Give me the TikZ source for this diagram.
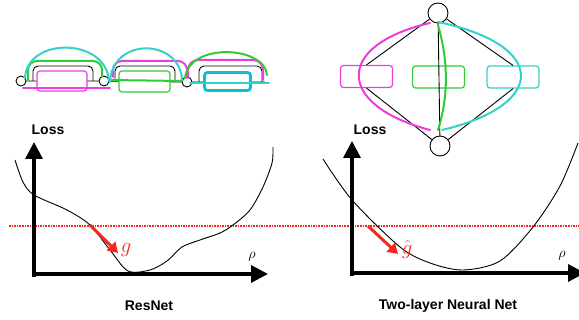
\documentclass[tikz,border=0pt]{standalone}
\usepackage{fontspec}
\setsansfont{Liberation Sans}
\usepackage{amsmath}
\usetikzlibrary{arrows.meta,calc}

\definecolor{skipmag}{RGB}{236,60,222}
\definecolor{skipgreen}{RGB}{48,204,52}
\definecolor{skipcyan}{RGB}{50,210,200}
\definecolor{deepcyan}{RGB}{10,190,214}
\definecolor{gradred}{RGB}{246,40,30}

\begin{document}
\begin{tikzpicture}[x=1pt,y=-1pt,>=latex]
	\tikzstyle{unit}=[circle,draw,fill=white,inner sep=0pt,line width=0.9pt]
	\tikzstyle{blk}=[draw,rectangle,rounded corners=3pt,fill=white,line width=1.2pt,minimum width=50pt,minimum height=20pt]
	\tikzstyle{route}=[line width=2pt,line cap=round]
	\tikzstyle{axis}=[line width=3.4pt,-{Triangle[length=17pt,width=17pt]}]
	\tikzstyle{grad}=[line width=3pt,gradred,-{Triangle[length=10pt,width=12pt]}]
	\tikzstyle{lbl}=[font=\fontsize{14}{16}\selectfont\sffamily\bfseries,anchor=base]

	\useasboundingbox (0,0) rectangle (579,320);

	\node[unit,minimum size=10pt] (R0) at (21,81) {};
	\node[unit,minimum size=10pt] (R1) at (104,81) {};
	\node[unit,minimum size=10pt] (R2) at (187,82) {};
	\coordinate (R3) at (265,82);

	\draw[line width=0.9pt] (R0) -- (R1) -- (R2) -- (R3);
	\draw[line width=0.9pt,rounded corners=5pt] ($(R0)+(12,0)$) -- ++(0,-15) -| ($(R1)+(-11,0)$);
	\draw[line width=0.9pt,rounded corners=5pt] ($(R1)+(11,0)$) -- ++(0,-15) -| ($(R2)+(-12,0)$);
	\draw[line width=0.9pt,rounded corners=5pt] ($(R2)+(12,0)$) -- ++(0,-16) -| ($(R3)+(-3,0)$);

	\node[blk,draw=skipmag] (B1) at (62,81) {};
	\node[blk,draw=skipgreen,minimum width=51pt,minimum height=21pt] (B2) at (144.5,81.5) {};
	\node[blk,draw=deepcyan,line width=2.8pt,minimum width=46pt,minimum height=18pt] (B3) at (227.5,81.5) {};

	\draw[route,skipmag] ($(R0)+(2,7)$) -- ($(R1)+(6,7)$);
	\draw[route,skipgreen,rounded corners=9pt] ($(R0)+(7,-1)$) -- ++(0,-19) -| ($(R1)+(-2,-4)$);
	\draw[route,skipcyan] ($(R0)+(4,-3)$) .. controls ($(R0)+(6,-44)$) and ($(R1)+(2,-44)$) .. ($(R1)+(5,0)$);

	\draw[route,skipgreen] ($(R1)+(6,-1)$) -- ($(R2)+(-5,-1)$);
	\draw[route,skipmag,rounded corners=9pt] ($(R1)+(9,-4)$) -- ++(0,-16) -| ($(R2)+(0,-4)$);
	\draw[route,skipcyan] ($(R1)+(6,1)$) .. controls ($(R1)+(8,-44)$) and ($(R2)+(-7,-44)$) .. ($(R2)+(-5,-2)$);

	\draw[route,skipcyan] ($(R2)+(3,1)$) -- ($(R3)+(4,1)$);
	\draw[route,skipmag,rounded corners=10pt] ($(R2)+(1,-5)$) -- ++(0,-17) -| ($(R3)+(-2,-2)$);
	\draw[route,skipgreen] ($(R2)+(-2,-4)$) .. controls ($(R2)+(2,-40)$) and ($(R3)+(0,-36)$) .. ($(R3)+(2,-7)$);

	\node[unit,minimum size=20pt] (T) at (438,13) {};
	\node[unit,minimum size=20pt] (U) at (440,146) {};
	\node[blk,draw=skipmag,fill=none,minimum width=52pt,minimum height=22pt] (H1) at (366.5,76.5) {};
	\node[blk,draw=skipgreen,fill=none,minimum width=52pt,minimum height=22pt] (H2) at (438.5,77) {};
	\node[blk,draw=skipcyan,fill=none,minimum width=52pt,minimum height=22pt] (H3) at (513,77) {};

	\path[line width=0.9pt] (T) edge (H1.north) (H1.south) edge (U);
	\path[line width=0.9pt] (T) edge (H3.north) (H3.south) edge (U);
	\path[line width=0.9pt] (T) edge (U);

	\draw[route,skipmag] ($(T)+(-8,10)$) .. controls (335,45) and (335,105) .. ($(U)+(-10,-16)$);
	\draw[route,skipgreen] ($(T)+(0,12)$) .. controls (448,60) and (449,95) .. ($(U)+(-2,-16)$);
	\draw[route,skipcyan] ($(T)+(0,9)$) .. controls (548,45) and (548,105) .. ($(U)+(2,-16)$);

	\coordinate (L0) at (9,226);
	\coordinate (L1) at (579,226);
	\draw[gradred,line width=1.2pt,dash pattern=on 1.6pt off 1pt] (L0) -- (L1);

	\coordinate (O1) at (34,274);
	\coordinate (Y1) at (34,142);
	\coordinate (X1) at (268,274);
	\draw[axis] ($(O1)+(0,3)$) -- (Y1);
	\draw[axis] (O1) -- (X1);
	\draw[line width=0.9pt] plot[smooth] coordinates {(15,160) (23,182) (34,195) (67,210) (90,225) (110,250) (128,271) (150,270) (167,261) (182,247) (200,240) (220,233) (233,225) (250,210) (263,187) (272,163) (273,147)};

	\coordinate (O2) at (352,273);
	\coordinate (Y2) at (352,141);
	\coordinate (X2) at (585,273);
	\draw[axis] ($(O2)+(0,3)$) -- (Y2);
	\draw[axis] (O2) -- (X2);
	\draw[line width=0.9pt] plot[smooth] coordinates {(323,159) (352,200) (400,247) (430,263) (463,270) (500,261) (533,227) (560,186) (578,143)};

	\coordinate (G1) at (90,225);
	\coordinate (G2) at (118,253);
	\draw[grad] (G1) -- (G2);
	\coordinate (G3) at (368,226);
	\coordinate (G4) at (398,254);
	\draw[grad] (G3) -- (G4);

	\node[text=gradred,font=\fontsize{20}{20}\selectfont] (g) at (126,250) {$g$};
	\node[text=gradred,font=\fontsize{20}{20}\selectfont] (gh) at (407,249) {$\hat{g}$};
	\node[font=\fontsize{14}{14}\selectfont] (rho1) at (252,257) {$\rho$};
	\node[font=\fontsize{14}{14}\selectfont] (rho2) at (562,256) {$\rho$};

	\node[lbl] (loss1) at (48,135) {Loss};
	\node[lbl] (loss2) at (370,135) {Loss};
	\node[lbl] (res) at (149,311) {ResNet};
	\node[lbl] (two) at (448,310) {Two-layer Neural Net};
\end{tikzpicture}
\end{document}
